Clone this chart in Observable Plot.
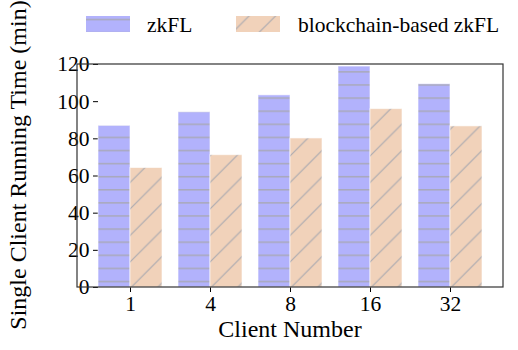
<!DOCTYPE html>
<html>
<head>
<meta charset="utf-8">
<script src="https://cdn.jsdelivr.net/npm/d3@7"></script>
<script src="https://cdn.jsdelivr.net/npm/@observablehq/plot@0.6"></script>
<style>
  html, body { margin: 0; padding: 0; background: #fff; }
  #chart { position: relative; width: 518px; height: 350px; }
  #chart svg, #chart svg text { font-family: "Liberation Serif", "Times New Roman", serif !important; }
</style>
</head>
<body>
<svg width="0" height="0" style="position:absolute">
  <defs>
    <pattern id="hatchH" patternUnits="userSpaceOnUse" x="0" y="0" width="10" height="13.1">
      <rect x="0" y="0" width="10" height="13.1" fill="#b2b2fc"></rect>
      <line x1="0" y1="6.4" x2="10" y2="6.4" stroke="#a8a8b0" stroke-width="1.3"></line>
    </pattern>
    <pattern id="hatchD" patternUnits="userSpaceOnUse" x="0" y="0" width="26.5" height="26.5">
      <rect x="0" y="0" width="26.5" height="26.5" fill="#f1d2ba"></rect>
      <path d="M0,26.5 L26.5,0 M-2,2 L2,-2 M24.5,28.5 L28.5,24.5" stroke="#a8a8b0" stroke-width="1.1"></path>
    </pattern>
  </defs>
</svg>
<div id="chart"></div>
<script>
const clients = ["1", "4", "8", "16", "32"];
const seriesNames = ["zkFL", "blockchain-based zkFL"];
const zkflValues = [87.0, 94.3, 103.4, 118.9, 109.4];
const blockchainValues = [64.3, 71.2, 80.2, 96.0, 86.7];
const yTicks = [0, 20, 40, 60, 80, 100, 120];
const fills = {"zkFL": "url(#hatchH)", "blockchain-based zkFL": "url(#hatchD)"};

const data = clients.flatMap((c, i) => [
  {client: c, series: seriesNames[0], value: zkflValues[i]},
  {client: c, series: seriesNames[1], value: blockchainValues[i]}
]);

const W = 518, H = 350, ML = 77, MR = 15, MT = 64, MB = 63;

const plot = Plot.plot({
  width: W, height: H,
  marginLeft: ML, marginRight: MR, marginTop: MT, marginBottom: MB,
  style: {fontFamily: "Liberation Serif", fontSize: "21.5px", color: "#000", background: "#fff", overflow: "visible"},
  fx: {domain: clients, paddingInner: 0.2, paddingOuter: 0.23, label: null, tickSize: 5, tickPadding: 3},
  x: {domain: seriesNames, padding: 0, axis: null},
  y: {domain: [0, 120], ticks: yTicks, tickSize: 5, tickPadding: 4, label: null},
  marks: [
    Plot.barY(data, {fx: "client", x: "series", y: "value", fill: d => fills[d.series], stroke: "#ffffff", strokeOpacity: 0.6, strokeWidth: 1})
  ]
});

document.getElementById("chart").appendChild(plot);

const svg = d3.select(plot);
// axes box
svg.append("rect")
  .attr("x", ML).attr("y", MT)
  .attr("width", W - ML - MR).attr("height", H - MT - MB)
  .attr("fill", "none").attr("stroke", "#333").attr("stroke-width", 1.2);

// axis titles
svg.append("text")
  .attr("transform", `translate(26,165) rotate(-90)`)
  .attr("text-anchor", "middle")
  .attr("font-size", "24px")
  .attr("fill", "#000")
  .text("Single Client Running Time (min)");
svg.append("text")
  .attr("x", (ML + W - MR) / 2).attr("y", 337)
  .attr("text-anchor", "middle")
  .attr("font-size", "24px")
  .attr("fill", "#000")
  .text("Client Number");

// legend
const legendItems = [
  {name: seriesNames[0], sx: 86, tx: 147},
  {name: seriesNames[1], sx: 236, tx: 298}
];
for (const it of legendItems) {
  svg.append("rect").attr("x", it.sx).attr("y", 16).attr("width", 44).attr("height", 16)
    .attr("fill", fills[it.name]);
  svg.append("text").attr("x", it.tx).attr("y", 32)
    .attr("text-anchor", "start")
    .attr("font-size", "21.5px").attr("fill", "#000").text(it.name);
}
</script>
</body>
</html>
